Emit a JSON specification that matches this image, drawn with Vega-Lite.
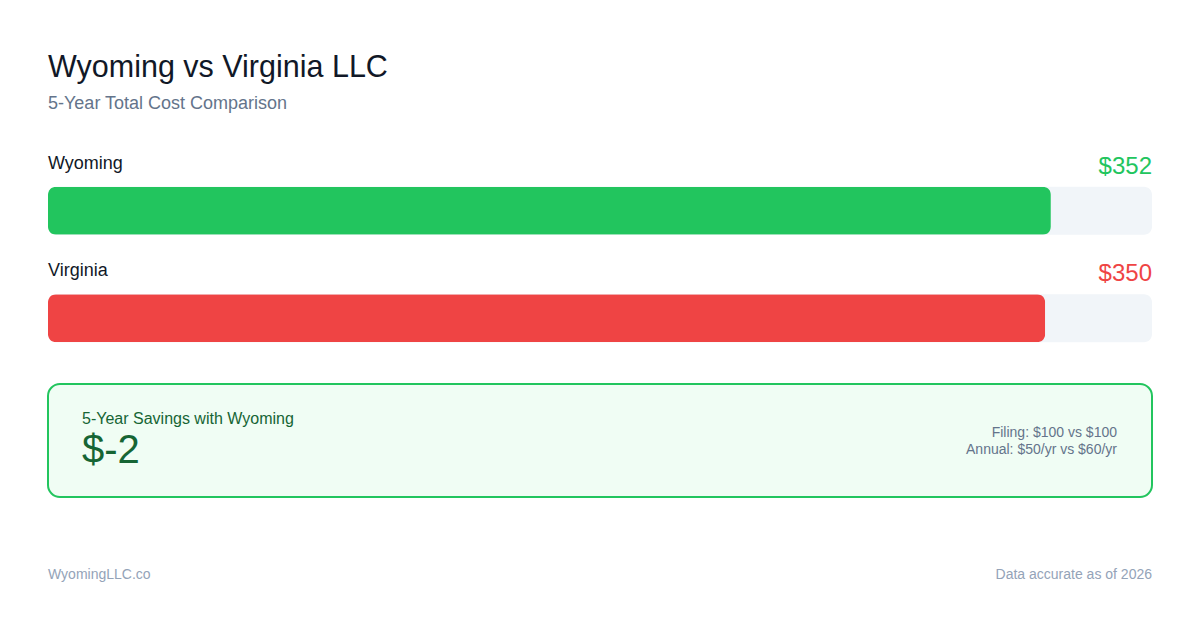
{
  "$schema": "https://vega.github.io/schema/vega-lite/v6.json",
  "background": "white",
  "padding": {"left": 47, "right": 47, "top": 52, "bottom": 0},
  "autosize": {"type": "pad"},
  "title": {
    "text": "Wyoming vs Virginia LLC",
    "subtitle": "5-Year Total Cost Comparison",
    "anchor": "start",
    "frame": "group",
    "font": "Liberation Sans",
    "fontSize": 30.5,
    "fontWeight": "normal",
    "color": "#111827",
    "subtitleFont": "Liberation Sans",
    "subtitleFontSize": 18,
    "subtitleColor": "#64748b",
    "subtitlePadding": 11.4,
    "offset": 27.2
  },
  "config": {"view": {"stroke": null}, "font": "Liberation Sans"},
  "spacing": 28,
  "vconcat": [
    {
      "width": 1104,
      "height": 215,
      "data": {"values": [
        {"state": "Wyoming", "cost": 352},
        {"state": "Virginia", "cost": 350}
      ]},
      "encoding": {
        "y": {
          "field": "state",
          "type": "nominal",
          "scale": {"domain": ["Wyoming", "Virginia"], "paddingInner": 0, "paddingOuter": 0},
          "axis": null
        }
      },
      "layer": [
        {
          "mark": {"type": "bar", "height": 48, "yOffset": 17, "cornerRadius": 8, "color": "#f1f5f9"},
          "encoding": {
            "x": {"datum": 387.5, "type": "quantitative", "scale": {"domain": [0, 387.5], "nice": false}, "axis": null}
          }
        },
        {
          "mark": {"type": "bar", "height": 48, "yOffset": 17, "cornerRadius": 8},
          "encoding": {
            "x": {"field": "cost", "type": "quantitative"},
            "color": {
              "field": "state",
              "type": "nominal",
              "scale": {"domain": ["Wyoming", "Virginia"], "range": ["#22c55e", "#ef4444"]},
              "legend": null
            }
          }
        },
        {
          "mark": {"type": "text", "align": "left", "baseline": "alphabetic", "fontSize": 18, "color": "#111827", "yOffset": -25},
          "encoding": {
            "x": {"datum": 0, "type": "quantitative"},
            "text": {"field": "state"}
          }
        },
        {
          "mark": {"type": "text", "align": "right", "baseline": "alphabetic", "fontSize": 24, "yOffset": -20},
          "encoding": {
            "x": {"datum": 387.5, "type": "quantitative"},
            "text": {"field": "cost", "type": "quantitative", "format": "$,.0f"},
            "color": {"field": "state", "type": "nominal"}
          }
        }
      ]
    },
    {
      "width": 1104,
      "height": 113,
      "view": {"fill": "#f0fdf4", "stroke": "#22c55e", "strokeWidth": 2, "cornerRadius": 12},
      "data": {"values": [
        {"state": "Wyoming", "savings": -2, "filing_wy": 100, "filing_va": 100, "annual_wy": 50, "annual_va": 60}
      ]},
      "transform": [
        {"calculate": "'5-Year Savings with ' + datum.state", "as": "heading"},
        {"calculate": "'$' + datum.savings", "as": "savings_label"},
        {"calculate": "'Filing: $' + datum.filing_wy + ' vs $' + datum.filing_va", "as": "filing"},
        {"calculate": "'Annual: $' + datum.annual_wy + '/yr vs $' + datum.annual_va + '/yr'", "as": "annual"}
      ],
      "layer": [
        {
          "mark": {"type": "text", "align": "left", "baseline": "alphabetic", "fontSize": 16, "color": "#166534"},
          "encoding": {"x": {"value": 34}, "y": {"value": 40}, "text": {"field": "heading"}}
        },
        {
          "mark": {"type": "text", "align": "left", "baseline": "alphabetic", "fontSize": 40, "color": "#166534"},
          "encoding": {"x": {"value": 34}, "y": {"value": 79}, "text": {"field": "savings_label"}}
        },
        {
          "mark": {"type": "text", "align": "right", "baseline": "alphabetic", "fontSize": 14, "color": "#64748b"},
          "encoding": {"x": {"value": 1069}, "y": {"value": 53}, "text": {"field": "filing"}}
        },
        {
          "mark": {"type": "text", "align": "right", "baseline": "alphabetic", "fontSize": 14, "color": "#64748b"},
          "encoding": {"x": {"value": 1069}, "y": {"value": 69.5}, "text": {"field": "annual"}}
        }
      ]
    },
    {
      "width": 1104,
      "height": 70,
      "data": {"values": [{"site": "WyomingLLC.co", "year": 2026}]},
      "transform": [
        {"calculate": "'Data accurate as of ' + datum.year", "as": "note"}
      ],
      "layer": [
        {
          "mark": {"type": "text", "align": "left", "baseline": "alphabetic", "fontSize": 14, "color": "#94a3b8"},
          "encoding": {"x": {"value": 0}, "y": {"value": 53}, "text": {"field": "site"}}
        },
        {
          "mark": {"type": "text", "align": "right", "baseline": "alphabetic", "fontSize": 14, "color": "#94a3b8"},
          "encoding": {"x": {"value": 1104}, "y": {"value": 53}, "text": {"field": "note"}}
        }
      ]
    }
  ]
}
